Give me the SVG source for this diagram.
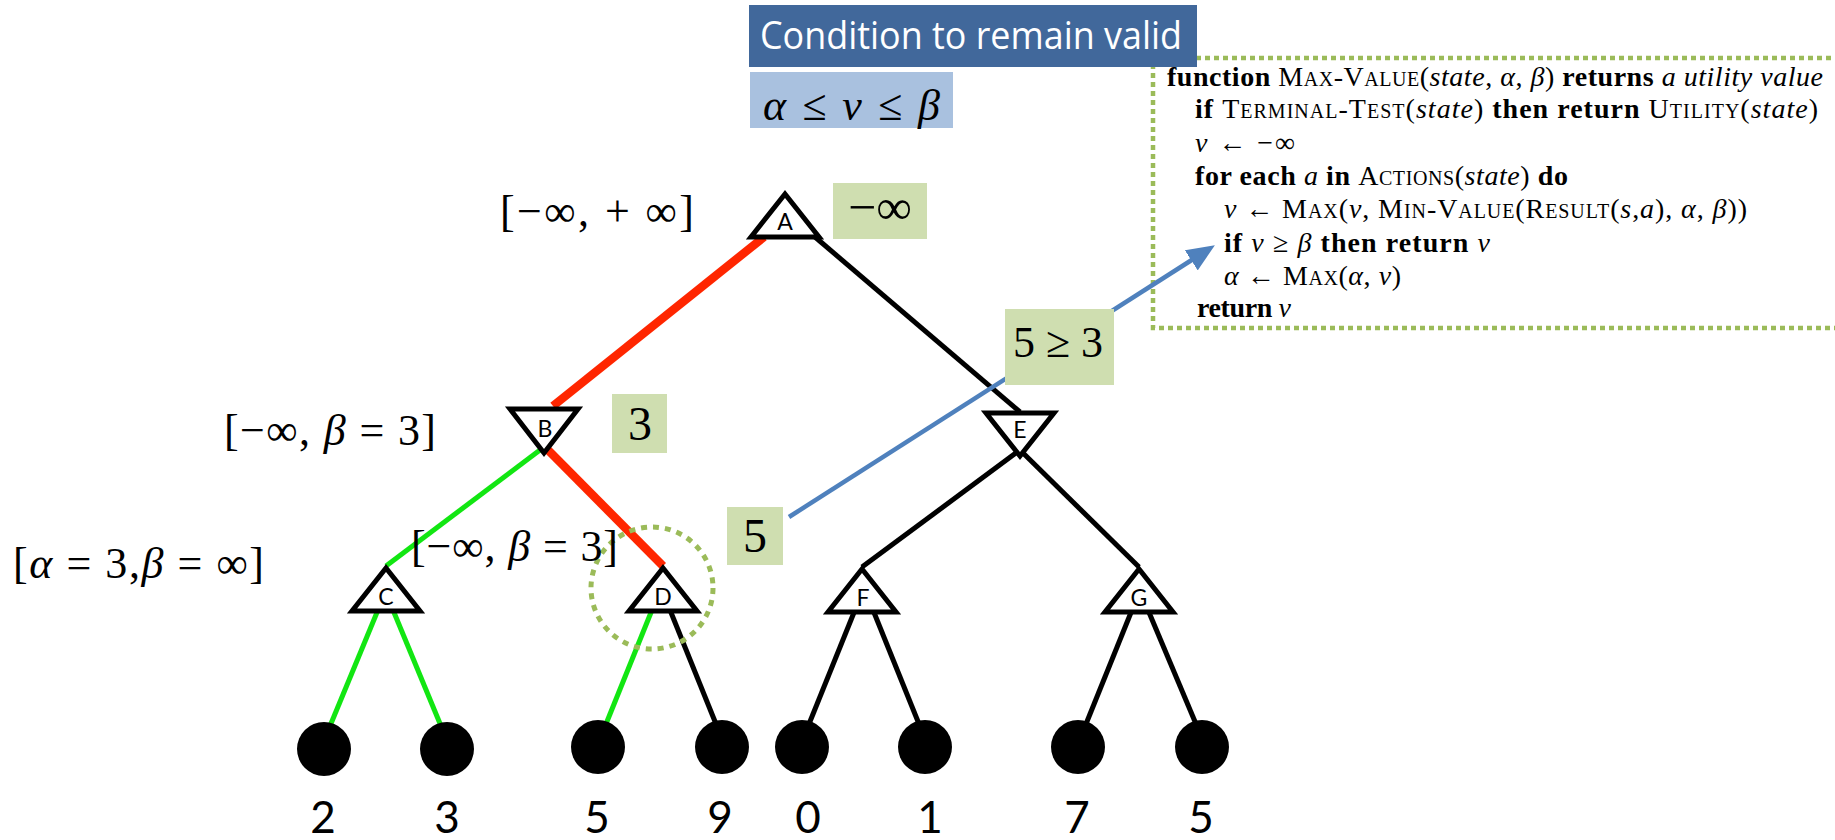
<svg xmlns="http://www.w3.org/2000/svg" width="1835" height="840" viewBox="0 0 1835 840">
<style>
.tri{fill:#fff;stroke:#000;stroke-width:5;stroke-linejoin:miter}
.nl{font-family:Lato,"Open Sans",sans-serif;font-size:23px;text-anchor:middle;fill:#000}
.leaf{fill:#000}
.dig{font-family:Lato,"Open Sans",sans-serif;font-size:44px;text-anchor:middle;fill:#000}
.blk{stroke:#000;stroke-width:5;fill:none}
.grn{stroke:#12e612;stroke-width:5;fill:none}
.red{stroke:#ff2600;stroke-width:8.5;fill:none}
.math{font-family:"Liberation Serif","Times New Roman",serif;font-size:44px;fill:#000}
.gbox{fill:#cfdeb0}
.gtxt{font-family:"Liberation Serif","Times New Roman",serif;fill:#000}
.code{font-family:"Liberation Serif","Times New Roman",serif;font-size:28px;fill:#000}
.b{font-weight:bold}
.i{font-style:italic}
.sc{font-variant:small-caps}
</style>
<defs>
<marker id="ah" markerUnits="userSpaceOnUse" viewBox="0 0 28 24" refX="8" refY="12" markerWidth="28" markerHeight="24" orient="auto">
<path d="M0,0 L28,12 L0,24 z" fill="#4f81bd"/>
</marker>
</defs>
<rect width="1835" height="840" fill="#fff"/>

<!-- pseudocode box -->
<g id="pseudocode">
<path d="M1840,58 L1153,58 L1153,328 L1840,328" fill="none" stroke="#9bbb59" stroke-width="4.5" stroke-dasharray="5 4"/>
<text class="code" x="1167" y="86" textLength="656" lengthAdjust="spacing"><tspan class="b">function</tspan> <tspan class="sc">Max-Value</tspan>(<tspan class="i">state</tspan>, <tspan class="i">α</tspan>, <tspan class="i">β</tspan>) <tspan class="b">returns</tspan> <tspan class="i">a utility value</tspan></text>
<text class="code" x="1195" y="118" textLength="623" lengthAdjust="spacing"><tspan class="b">if</tspan> <tspan class="sc">Terminal-Test</tspan>(<tspan class="i">state</tspan>) <tspan class="b">then return</tspan> <tspan class="sc">Utility</tspan>(<tspan class="i">state</tspan>)</text>
<text class="code" x="1195" y="152" textLength="100" lengthAdjust="spacing"><tspan class="i">v</tspan> ← −∞</text>
<text class="code" x="1195" y="185" textLength="373" lengthAdjust="spacing"><tspan class="b">for each</tspan> <tspan class="i">a</tspan> <tspan class="b">in</tspan> <tspan class="sc">Actions</tspan>(<tspan class="i">state</tspan>) <tspan class="b">do</tspan></text>
<text class="code" x="1224" y="218" textLength="523" lengthAdjust="spacing"><tspan class="i">v</tspan> ← <tspan class="sc">Max</tspan>(<tspan class="i">v</tspan>, <tspan class="sc">Min-Value</tspan>(<tspan class="sc">Result</tspan>(<tspan class="i">s</tspan>,<tspan class="i">a</tspan>), <tspan class="i">α</tspan>, <tspan class="i">β</tspan>))</text>
<text class="code" x="1224" y="252" textLength="266" lengthAdjust="spacing"><tspan class="b">if</tspan> <tspan class="i">v</tspan> ≥ <tspan class="i">β</tspan> <tspan class="b">then return</tspan> <tspan class="i">v</tspan></text>
<text class="code" x="1224" y="285" textLength="177" lengthAdjust="spacing"><tspan class="i">α</tspan> ← <tspan class="sc">Max</tspan>(<tspan class="i">α</tspan>, <tspan class="i">v</tspan>)</text>
<text class="code" x="1197" y="317" textLength="94" lengthAdjust="spacing"><tspan class="b">return</tspan> <tspan class="i">v</tspan></text>
</g>

<!-- title -->
<g id="title">
<rect x="749" y="5" width="448" height="62" fill="#41689b"/>
<text x="760" y="49" font-family="'Open Sans',sans-serif" font-size="38" fill="#fff" textLength="422" lengthAdjust="spacingAndGlyphs">Condition to remain valid</text>
</g>
<g id="condition">
<rect x="750" y="72" width="203" height="56" fill="#a9c1df"/>
<text x="763" y="120" font-family="'Liberation Serif',serif" font-size="44" font-style="italic" textLength="177" lengthAdjust="spacing">α ≤ v ≤ β</text>
</g>

<!-- connectors -->
<g id="connectors">
<line class="red" x1="764" y1="237" x2="553" y2="406"/>
<line class="blk" x1="815" y1="237" x2="1020" y2="412"/>
<line class="grn" x1="540" y1="450" x2="386" y2="566"/>
<line class="red" x1="548" y1="450" x2="663" y2="566"/>
<line class="blk" x1="1020" y1="450" x2="862" y2="567"/>
<line class="blk" x1="1020" y1="450" x2="1139" y2="567"/>
<line class="grn" x1="378" y1="610" x2="330" y2="726"/>
<line class="grn" x1="393" y1="610" x2="441" y2="726"/>
<line class="grn" x1="652" y1="610" x2="606" y2="724"/>
<line class="blk" x1="670" y1="610" x2="716" y2="724"/>
<line class="blk" x1="855" y1="610" x2="809" y2="724"/>
<line class="blk" x1="873" y1="610" x2="919" y2="724"/>
<line class="blk" x1="1132" y1="610" x2="1086" y2="724"/>
<line class="blk" x1="1148" y1="610" x2="1196" y2="724"/>
<line x1="789" y1="517" x2="1198" y2="256" stroke="#4f81bd" stroke-width="4.5" marker-end="url(#ah)"/>
</g>

<!-- nodes -->
<g id="node-A">
<polygon class="tri" points="785,194 751,237 819,237"/>
<text class="nl" x="785" y="230">A</text>
</g>
<g id="node-B">
<polygon class="tri" points="510,409 578,409 544,453"/>
<text class="nl" x="545" y="437">B</text>
</g>
<g id="node-E">
<polygon class="tri" points="986,413 1054,413 1020,456"/>
<text class="nl" x="1020" y="438">E</text>
</g>
<g id="node-C">
<polygon class="tri" points="386,568 352,611 420,611"/>
<text class="nl" x="386" y="605">C</text>
</g>
<g id="node-D">
<polygon class="tri" points="663,568 629,611 697,611"/>
<text class="nl" x="663" y="605">D</text>
</g>
<g id="node-F">
<polygon class="tri" points="862,569 828,612 896,612"/>
<text class="nl" x="863" y="606">F</text>
</g>
<g id="node-G">
<polygon class="tri" points="1139,569 1105,612 1173,612"/>
<text class="nl" x="1139" y="606">G</text>
</g>

<g id="leaf-2"><circle class="leaf" cx="324" cy="749" r="27"/><text class="dig" x="323" y="833">2</text></g>
<g id="leaf-3"><circle class="leaf" cx="447" cy="749" r="27"/><text class="dig" x="447" y="833">3</text></g>
<g id="leaf-5a"><circle class="leaf" cx="598" cy="747" r="27"/><text class="dig" x="597" y="833">5</text></g>
<g id="leaf-9"><circle class="leaf" cx="722" cy="747" r="27"/><text class="dig" x="720" y="833">9</text></g>
<g id="leaf-0"><circle class="leaf" cx="802" cy="747" r="27"/><text class="dig" x="808" y="833">0</text></g>
<g id="leaf-1"><circle class="leaf" cx="925" cy="747" r="27"/><text class="dig" x="930" y="833">1</text></g>
<g id="leaf-7"><circle class="leaf" cx="1078" cy="747" r="27"/><text class="dig" x="1077" y="833">7</text></g>
<g id="leaf-5b"><circle class="leaf" cx="1202" cy="747" r="27"/><text class="dig" x="1201" y="833">5</text></g>

<!-- highlight circle around D -->
<circle id="d-highlight" cx="652" cy="588" r="61" fill="none" stroke="#9bbb59" stroke-width="5" stroke-dasharray="6 6"/>

<!-- bound labels -->
<g id="label-A"><text class="math" x="500" y="226" textLength="194" lengthAdjust="spacing">[−∞, + ∞]</text></g>
<g id="label-B"><text class="math" x="224" y="445" textLength="212" lengthAdjust="spacing">[−∞, <tspan font-style="italic">β</tspan> = 3]</text></g>
<g id="label-C"><text class="math" x="13" y="578" font-size="46" textLength="251" lengthAdjust="spacing">[<tspan font-style="italic">α</tspan> = 3,<tspan font-style="italic">β</tspan> = ∞]</text></g>
<g id="label-D"><text class="math" x="411" y="561" textLength="207" lengthAdjust="spacing">[−∞, <tspan font-style="italic">β</tspan> = 3]</text></g>

<!-- value boxes -->
<g id="val-A">
<rect class="gbox" x="833" y="183" width="94" height="56"/>
<text class="gtxt" x="880" y="224" font-size="50" text-anchor="middle">−∞</text>
</g>
<g id="val-B">
<rect class="gbox" x="612" y="394" width="55" height="59"/>
<text class="gtxt" x="640" y="440" font-size="48" text-anchor="middle">3</text>
</g>
<g id="val-D">
<rect class="gbox" x="727" y="507" width="56" height="58"/>
<text class="gtxt" x="755" y="552" font-size="48" text-anchor="middle">5</text>
</g>
<g id="val-cmp">
<rect class="gbox" x="1005" y="309" width="109" height="76"/>
<text class="gtxt" x="1058" y="357" font-size="44" text-anchor="middle">5 ≥ 3</text>
</g>
</svg>
